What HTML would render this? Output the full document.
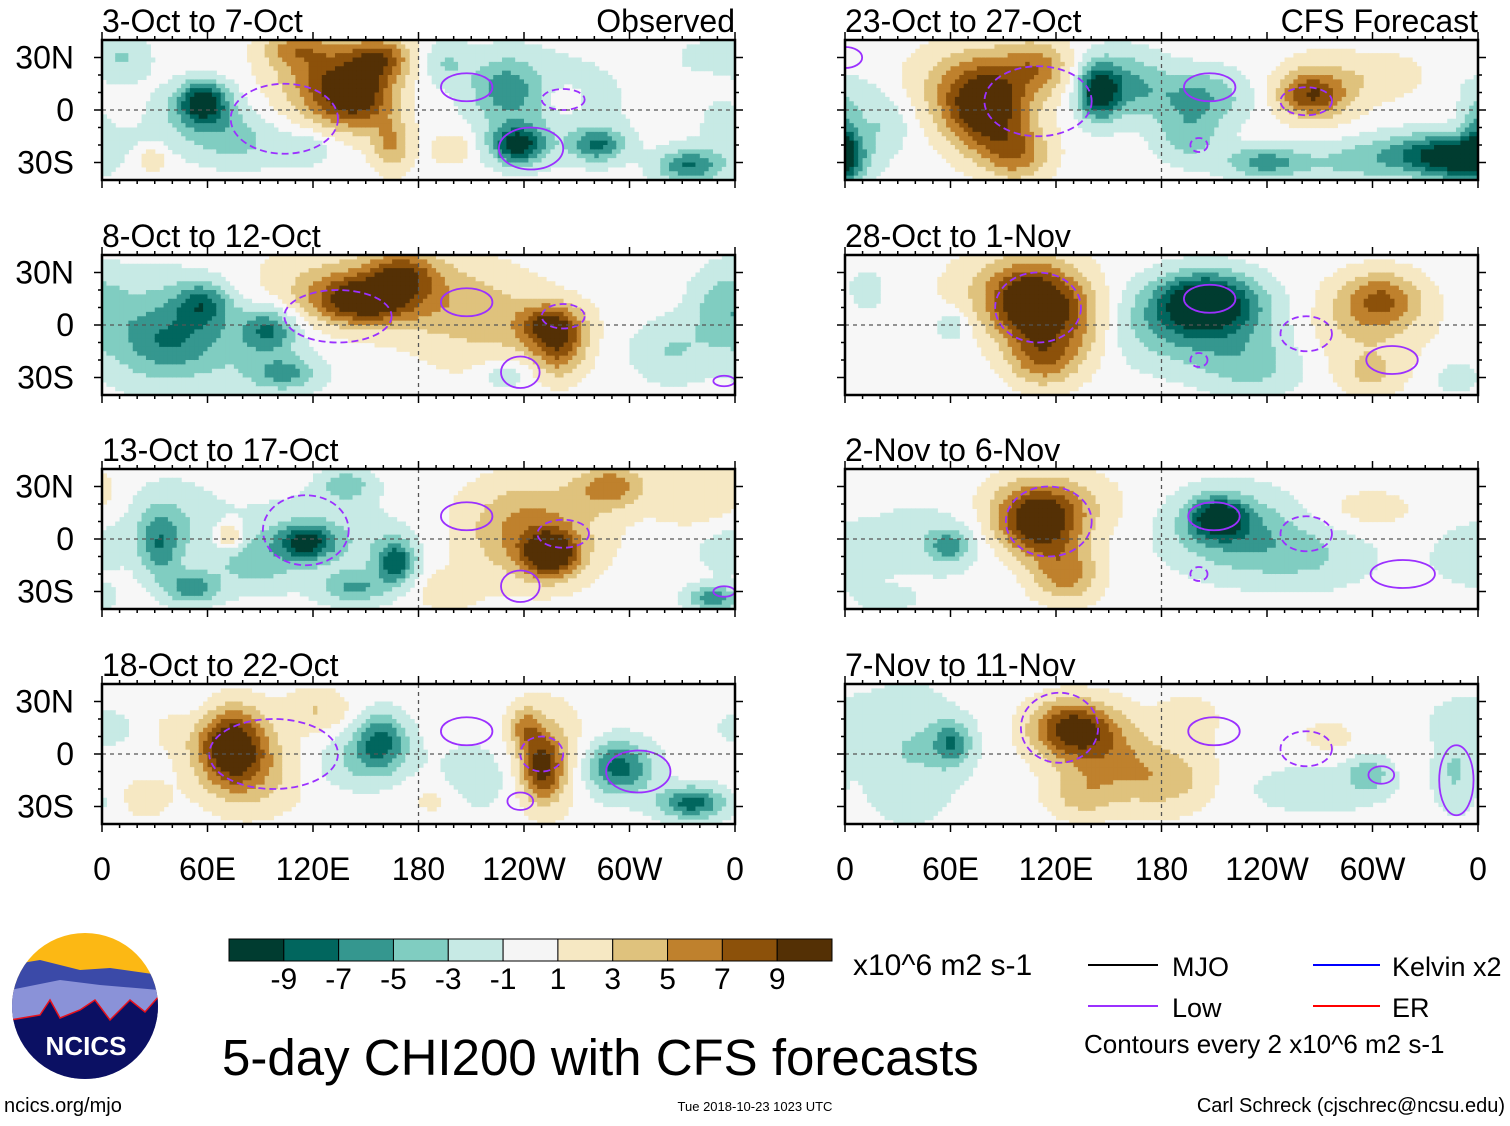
<!DOCTYPE html>
<html><head><meta charset="utf-8"><style>
body{margin:0;background:#fff;font-family:"Liberation Sans",sans-serif;}
svg text{font-family:"Liberation Sans",sans-serif;}
</style></head><body>
<svg id="fig" width="1510" height="1121" viewBox="0 0 1510 1121" xmlns="http://www.w3.org/2000/svg"></svg>
<script>
const bandColors=["#003c30","#01665e","#35978f","#80cdc1","#c7eae5","#f5f5f5","#f6e8c3","#dfc27d","#bf812d","#8c510a","#543005"];
const levelLabels=["-9","-7","-5","-3","-1","1","3","5","7","9"];
const panelTitles=["3-Oct to 7-Oct","8-Oct to 12-Oct","13-Oct to 17-Oct","18-Oct to 22-Oct","23-Oct to 27-Oct","28-Oct to 1-Nov","2-Nov to 6-Nov","7-Nov to 11-Nov"];
const lonTicks=["0","60E","120E","180","120W","60W","0"];
const latTicks=["30N","0","30S"];
// anomaly blobs: [lon, lat, peak, sigmaLon, sigmaLat]
const blobs1=[[47,5,-9,7,7],[47,-5,-4,12,12],[118,8,10,12,12],[130,30,7,10,8],[100,20,5,15,15],[90,35,4,10,6],[135,-20,5,6,10],[194,-20,-10,8,7],[231,-20,-7,8,6],[274,-32,-7,10,6],[188,12,-5,10,12],[210,5,-2,25,20],[160,27,-3,8,8],[215,6,3,5,5],[163,-22,3,6,6],[281,31,-2,8,6],[10,30,-3,8,8],[10,0,2,6,8],[23,-28,3,5,5],[66,-18,-3,12,10],[95,-22,-3,8,6],[300,-10,-2,15,15]];
const blobs2=[[122,14,9,14,8],[140,30,6,10,8],[110,20,4,30,15],[165,15,3,25,15],[209,0,8,10,8],[213,-15,6,8,10],[180,-10,2,20,15],[47,12,-6,8,8],[78,-3,-6,8,8],[25,-5,-4,15,20],[60,-5,-3,25,20],[85,-28,-5,10,6],[290,10,-4,10,15],[265,-15,-3,12,12],[188,-28,-3,8,6],[330,-10,-2,15,10]];
const blobs3=[[209,-9,10,8,8],[200,5,6,20,18],[237,30,6,10,8],[280,25,3,15,12],[160,-30,2,10,8],[95,-2,-8,8,6],[137,-13,-8,6,8],[118,-28,-5,10,6],[100,0,-3,25,15],[27,-5,-5,6,12],[42,-28,-6,8,6],[30,10,-3,15,15],[59,2,5,4,5],[285,-34,-6,8,5],[114,31,-4,8,6],[70,-15,-3,12,10],[290,-5,-2,10,10]];
const blobs4=[[60,5,10,10,14],[70,-10,4,15,15],[40,15,2,15,10],[100,25,3,10,8],[205,-8,8,6,12],[197,15,5,5,8],[210,0,3,10,20],[130,8,-7,8,10],[120,-5,-3,15,10],[172,-15,-3,10,12],[241,-8,-8,10,10],[275,-28,-8,10,6],[300,15,-2,10,8],[340,20,-2,8,10],[158,-25,2,10,8],[20,-25,2,8,8]];
const blobs5=[[65,0,10,12,15],[80,-25,6,10,10],[90,25,5,10,10],[60,15,4,20,15],[118,10,-9,6,10],[130,15,-5,12,12],[165,8,-5,15,10],[160,-15,-4,10,10],[196,-30,-6,12,6],[235,-30,-3,15,8],[285,-28,-9,12,8],[265,-25,-5,15,8],[0,-20,-6,5,15],[18,-8,-3,8,10],[217,8,7,10,8],[225,15,3,15,12],[255,20,2,10,8],[300,10,-1.5,10,8]];
const blobs6=[[88,10,10,12,14],[92,-20,6,10,10],[80,20,4,20,15],[110,0,4,10,15],[168,14,-10,14,10],[165,0,-6,25,15],[190,-25,-3,15,10],[250,15,6,12,10],[240,0,3,20,15],[245,-28,3,10,8],[50,0,-3,5,6],[10,20,-2,6,8],[285,-30,-2,8,6]];
const blobs7=[[90,8,10,12,12],[103,-20,6,10,10],[95,20,4,20,12],[174,12,-9,8,7],[180,5,-5,20,15],[215,-10,-3,20,12],[48,-4,-5,6,6],[40,0,-2,20,15],[244,17,2,15,8],[290,-10,-1.5,15,15],[20,-35,-1.5,10,5]];
const blobs8=[[105,15,9,12,10],[120,0,5,15,15],[150,-15,4,15,12],[110,-25,3,10,8],[160,20,2,10,10],[50,6,-6,6,8],[30,0,-3,15,25],[244,-11,-4,6,6],[220,-20,-2,25,10],[284,-10,-3,6,15],[290,20,-1.5,15,10],[225,10,2,8,6]];
// purple contours: [lon, lat, rLon, rLat, dashed]
const cont1=[[170,13,12,8,0],[215,6,10,6,1],[85,-5,25,20,1],[200,-22,15,12,0]];
const cont2=[[170,13,12,8,0],[215,5,10,7,1],[195,-27,9,9,0],[110,5,25,15,1],[290,-32,5,3,0]];
const cont3=[[170,13,12,8,0],[215,3,12,8,1],[195,-27,9,9,0],[95,5,20,20,1],[290,-30,5,3,0]];
const cont4=[[170,13,12,8,0],[205,0,10,10,1],[195,-27,6,5,0],[80,0,30,20,1],[250,-10,15,12,0]];
const cont5=[[170,13,12,8,0],[215,5,12,8,1],[165,-20,4,4,1],[90,5,25,20,1],[0,30,8,6,0]];
const cont6=[[170,15,12,8,0],[215,-5,12,10,1],[165,-20,4,4,1],[90,10,20,20,1],[255,-20,12,8,0]];
const cont7=[[172,13,12,8,0],[215,3,12,10,1],[165,-20,4,4,1],[95,10,20,20,1],[260,-20,15,8,0]];
const cont8=[[172,13,12,8,0],[215,3,12,10,1],[250,-12,6,5,0],[100,15,18,20,1],[285,-15,8,20,0]];
const allBlobs=[blobs1,blobs2,blobs3,blobs4,blobs5,blobs6,blobs7,blobs8];
const allCont=[cont1,cont2,cont3,cont4,cont5,cont6,cont7,cont8];

const NS="http://www.w3.org/2000/svg";
const svg=document.getElementById('fig');
function mk(t,a,p){const e=document.createElementNS(NS,t);for(const k in a)e.setAttribute(k,a[k]);(p||svg).appendChild(e);return e;}
const PW=633,PH=140,colX=[102,845],rowY=[40,255,469,684];
const SIG=1.1, LON_SCALE=1.22;
function band(v){return Math.max(0,Math.min(10,Math.floor((v+11)/2)));}
const defs=mk('defs',{});

for(let p=0;p<8;p++){
  const x0=colX[p<4?0:1], y0=rowY[p%4];
  const xs=lon=>x0+lon*PW/360;
  const ys=lat=>y0+PH/2-lat*(PH/2)/40;
  const cp=mk('clipPath',{id:'clip'+p},defs);
  mk('rect',{x:x0,y:y0,width:PW,height:PH},cp);
  const g=mk('g',{});
  
  
  mk('rect',{x:x0,y:y0,width:PW,height:PH,fill:'#f7f7f7'},g);
  const step=2.5;
  for(let lon=0;lon<360;lon+=step){
    for(let lat=40;lat>-40;lat-=step){
      const cl=lon+step/2, ct=lat-step/2;
      let v=0;
      for(const b of allBlobs[p]){
        let dl=cl-(b[0]*LON_SCALE)%360; if(dl>180)dl-=360; if(dl<-180)dl+=360;
        v+=b[2]*Math.exp(-0.5*((dl/(b[3]*SIG*LON_SCALE))**2+((ct-b[1])/(b[4]*SIG))**2));
      }
      const bi=band(v); if(bi===5)continue;
      const r=mk('rect',{x:xs(lon).toFixed(2),y:ys(lat).toFixed(2),width:(PW*step/360+0.6).toFixed(2),height:(PH*step/80+0.6).toFixed(2),fill:bandColors[bi]},g);
      
      
    }
  }
  const cg=mk('g',{'clip-path':'url(#clip'+p+')'},g);
  for(const c of allCont[p]){
    const e=mk('ellipse',{cx:xs((c[0]*LON_SCALE)%360),cy:ys(c[1]),rx:c[2]*LON_SCALE*PW/360,ry:c[3]*PH/80,fill:'none',stroke:'#9b30ff','stroke-width':1.8,'stroke-dasharray':c[4]?'7,4':'none'},cg);
    
    
  }
  mk('line',{x1:x0,x2:x0+PW,y1:ys(0),y2:ys(0),stroke:'#555','stroke-width':1.3,'stroke-dasharray':'4,4'},g);
  mk('line',{x1:xs(180),x2:xs(180),y1:y0,y2:y0+PH,stroke:'#555','stroke-width':1.3,'stroke-dasharray':'4,4'},g);
  mk('rect',{x:x0,y:y0,width:PW,height:PH,fill:'none',stroke:'#000','stroke-width':2.5},g);
  for(let lon=0;lon<=360;lon+=10){
    const L=lon%60===0?8:4;
    mk('line',{x1:xs(lon),x2:xs(lon),y1:y0,y2:y0-L,stroke:'#000','stroke-width':1.5},g);
    mk('line',{x1:xs(lon),x2:xs(lon),y1:y0+PH,y2:y0+PH+L,stroke:'#000','stroke-width':1.5},g);
  }
  for(let lat=-30;lat<=30;lat+=10){
    const L=lat%30===0?8:4;
    mk('line',{x1:x0,x2:x0-L,y1:ys(lat),y2:ys(lat),stroke:'#000','stroke-width':1.5},g);
    mk('line',{x1:x0+PW,x2:x0+PW+L,y1:ys(lat),y2:ys(lat),stroke:'#000','stroke-width':1.5},g);
  }
  const t=mk('text',{x:x0,y:y0-8,'font-size':32},g); t.textContent=panelTitles[p];
   
  if(p<4){
    [30,0,-30].forEach((la,i)=>{const tt=mk('text',{x:74,y:ys(la)+11,'font-size':32,'text-anchor':'end'});tt.textContent=latTicks[i];
       });
  }
  if(p===0){const o=mk('text',{x:x0+PW,y:y0-8,'font-size':32,'text-anchor':'end'});o.textContent='Observed';}
  if(p===4){const o=mk('text',{x:x0+PW,y:y0-8,'font-size':32,'text-anchor':'end'});o.textContent='CFS Forecast';}
  if(p%4===3){
    lonTicks.forEach((lb,i)=>{const tt=mk('text',{x:xs(i*60),y:880,'font-size':32,'text-anchor':'middle'});tt.textContent=lb;
       });
  }
}
const cbX=229,cbY=939,cbW=603/11,cbH=22;
bandColors.forEach((c,i)=>{const r=mk('rect',{x:cbX+i*cbW,y:cbY,width:cbW,height:cbH,fill:c,stroke:'#000','stroke-width':1});
   });
levelLabels.forEach((l,i)=>{const t=mk('text',{x:cbX+(i+1)*cbW,y:989,'font-size':30,'text-anchor':'middle'});t.textContent=l;
   });
</script>
<svg style="position:absolute;left:0;top:0" width="1510" height="1121" xmlns="http://www.w3.org/2000/svg">
<text x="853" y="975" font-size="30">x10^6 m2 s-1</text>
<text x="222" y="1075" font-size="51">5-day CHI200 with CFS forecasts</text>
<g>
<line x1="1088" x2="1158" y1="965" y2="965" stroke="#000" stroke-width="2"/><text x="1172" y="976" font-size="27">MJO</text>
<line x1="1088" x2="1158" y1="1006" y2="1006" stroke="#9b30ff" stroke-width="2"/><text x="1172" y="1017" font-size="27">Low</text>
<line x1="1313" x2="1380" y1="965" y2="965" stroke="#0000ff" stroke-width="2"/><text x="1392" y="976" font-size="27">Kelvin x2</text>
<line x1="1313" x2="1380" y1="1006" y2="1006" stroke="#ff0000" stroke-width="2"/><text x="1392" y="1017" font-size="27">ER</text>
<text x="1084" y="1053" font-size="26">Contours every 2 x10^6 m2 s-1</text>
</g>
<text x="1505" y="1112" font-size="20" text-anchor="end">Carl Schreck (cjschrec@ncsu.edu)</text>
<text x="755" y="1111" font-size="13" text-anchor="middle">Tue 2018-10-23 1023 UTC</text>
<text x="4" y="1112" font-size="20">ncics.org/mjo</text>
<g>
<defs><clipPath id="lc"><circle cx="85" cy="1006" r="73"/></clipPath></defs>
<g clip-path="url(#lc)">
<rect x="10" y="930" width="150" height="152" fill="#fcb814"/>
<path d="M10 965 L40 960 L80 970 L110 968 L160 975 L160 1082 L10 1082Z" fill="#3b4aa8"/>
<path d="M10 990 L60 980 L100 985 L160 990 L160 1082 L10 1082Z" fill="#8a92d8"/>
<path d="M10 1020 L40 1015 L50 1000 L60 1018 L80 1010 L95 1000 L110 1020 L130 1000 L145 1012 L160 995 L160 1082 L10 1082Z" fill="#0b1063" stroke="#e8101a" stroke-width="1.5"/>
</g>
<text x="86" y="1055" font-size="26" font-weight="bold" fill="#fff" text-anchor="middle">NCICS</text>
</g>
</svg>
</body></html>
